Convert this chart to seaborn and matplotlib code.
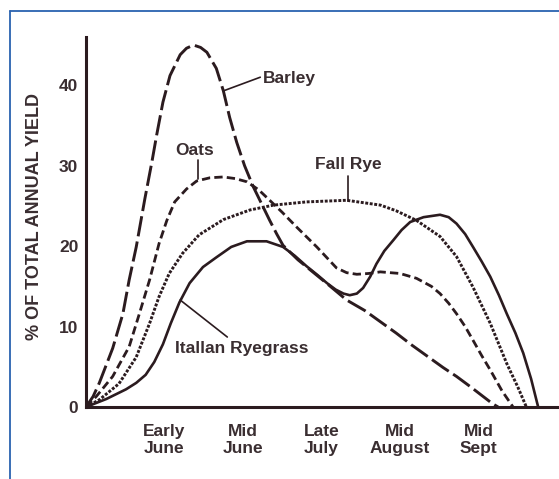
import matplotlib
matplotlib.use("Agg")
import matplotlib.pyplot as plt
import seaborn as sns
from matplotlib.lines import Line2D

# ---- data (x in month-tick units: Early June = 1, ... Mid Sept = 5) ----
tick_pos = [1, 2, 3, 4, 5]
tick_labels = ["Early\nJune", "Mid\nJune", "Late\nJuly", "Mid\nAugust", "Mid\nSept"]
y_ticks = [0, 10, 20, 30, 40]

barley_x = [0, 0.09, 0.17, 0.34, 0.47, 0.55, 0.64, 0.75, 0.84, 0.90, 0.98, 1.07, 1.20,
            1.28, 1.37, 1.46, 1.54, 1.66, 1.75, 1.83, 1.92, 2.02, 2.13, 2.24, 2.34, 2.43,
            2.51, 2.70, 2.90, 3.10, 3.32, 3.55, 3.75, 3.95, 4.15, 4.35, 4.55, 4.72, 4.90,
            5.06, 5.18, 5.25]
barley_y = [0, 1.3, 3.0, 7.3, 11.6, 15.8, 19.9, 25.9, 30.5, 33.8, 37.9, 41.2, 43.8,
            44.6, 45.0, 44.7, 44.1, 42.1, 39.3, 36.0, 32.9, 30.0, 27.4, 25.2, 23.2, 21.5,
            20.1, 18.3, 16.7, 15.1, 13.3, 12.0, 10.6, 9.2, 7.7, 6.3, 4.9, 3.8, 2.5,
            1.3, 0.4, 0]

oats_x = [0, 0.13, 0.34, 0.55, 0.68, 0.81, 0.93, 1.03, 1.13, 1.28, 1.41, 1.58, 1.75,
          1.90, 2.05, 2.20, 2.34, 2.50, 2.68, 2.94, 3.19, 3.32, 3.45, 3.60, 3.75, 4.00,
          4.21, 4.40, 4.51, 4.62, 4.72, 4.83, 4.93, 5.04, 5.15, 5.30, 5.44]
oats_y = [0, 1.3, 3.8, 7.5, 11.6, 15.8, 20.3, 23.2, 25.5, 27.1, 28.1, 28.5, 28.6,
          28.4, 28.0, 27.0, 25.7, 24.2, 22.4, 19.9, 17.3, 16.7, 16.5, 16.6, 16.8, 16.6,
          16.0, 15.0, 14.1, 12.9, 11.6, 10.0, 8.3, 6.4, 4.6, 2.0, 0]

rye_x = [0, 0.17, 0.42, 0.64, 0.81, 0.93, 1.06, 1.23, 1.44, 1.75, 2.09, 2.39, 2.81,
         3.32, 3.75, 3.95, 4.21, 4.51, 4.72, 4.93, 5.15, 5.36, 5.50, 5.61]
rye_y = [0, 0.9, 2.9, 6.2, 10.4, 13.7, 16.6, 19.1, 21.4, 23.3, 24.5, 25.1, 25.5,
         25.7, 25.1, 24.4, 23.2, 21.2, 18.7, 14.9, 10.4, 5.4, 2.5, 0]

ryegrass_x = [0, 0.26, 0.51, 0.64, 0.76, 0.87, 0.98, 1.08, 1.19, 1.32, 1.49, 1.66, 1.85,
              2.05, 2.30, 2.51, 2.66, 2.81, 2.95, 3.07, 3.18, 3.28, 3.36, 3.45, 3.53,
              3.62, 3.70, 3.80, 3.92, 4.02, 4.13, 4.30, 4.51, 4.62, 4.72, 4.83, 4.93,
              5.04, 5.15, 5.26, 5.36, 5.47, 5.57, 5.67, 5.76]
ryegrass_y = [0, 1.0, 2.2, 3.0, 4.0, 5.6, 7.8, 10.4, 13.0, 15.4, 17.4, 18.6, 19.9,
              20.6, 20.6, 19.9, 18.8, 17.5, 16.4, 15.4, 14.6, 14.1, 13.9, 14.1, 14.8,
              16.2, 17.8, 19.4, 20.8, 22.0, 23.0, 23.6, 23.9, 23.6, 22.8, 21.5, 19.9,
              18.1, 16.2, 13.9, 11.6, 9.2, 6.7, 3.5, 0]

# ---- style ----
sns.set_style("white")
plt.rcParams["font.family"] = ["Liberation Sans", "DejaVu Sans"]
plt.rcParams["font.weight"] = "bold"

ink = "#2b1b1f"
txt = "#3a2e31"

fig = plt.figure(figsize=(5.59, 4.79), dpi=100)
ax = fig.add_axes([86 / 559, (479 - 407) / 479, (557 - 86) / 559, (407 - 37) / 479])

series = [
    (barley_x, barley_y, (0, (7.0, 1.8)), 2.1),
    (oats_x, oats_y, (0, (3.0, 1.5)), 2.0),
    (rye_x, rye_y, (0, (1.0, 0.55)), 2.1),
    (ryegrass_x, ryegrass_y, "-", 1.9),
]
for xs, ys, ls, lw in series:
    sns.lineplot(x=xs, y=ys, ax=ax, color=ink, linewidth=lw, linestyle=ls,
                 solid_joinstyle="round", dash_joinstyle="round")

ax.set_xlim(0, 6.0)
ax.set_ylim(0, 46)
ax.set_xticks(tick_pos)
ax.set_xticklabels(tick_labels, fontsize=12.5, color=txt, fontweight="bold", linespacing=1.1)
ax.set_yticks(y_ticks)
ax.set_yticklabels([str(v) for v in y_ticks], fontsize=12.5, color=txt, fontweight="bold")
ax.tick_params(axis="x", direction="out", length=5.5, width=1.6, color=ink, pad=7)
ax.tick_params(axis="y", direction="out", length=4.5, width=1.6, color=ink, pad=1)
for s in ["top", "right"]:
    ax.spines[s].set_visible(False)
for s in ["left", "bottom"]:
    ax.spines[s].set_color(ink)
    ax.spines[s].set_linewidth(2.2)

ax.set_ylabel("% OF TOTAL ANNUAL YIELD", fontsize=13, color=txt, fontweight="bold")
ax.yaxis.set_label_coords(-0.091, 0.516)

# ---- annotations ----
fs = 12.5
ax.text(2.25, 40.9, "Barley", fontsize=fs, color=txt, fontweight="bold", ha="left", va="center")
ax.plot([1.75, 2.22], [39.3, 41.0], color=ink, lw=1.2)
ax.text(1.39, 31.9, "Oats", fontsize=fs, color=txt, fontweight="bold", ha="center", va="center")
ax.plot([1.43, 1.43], [30.7, 28.4], color=ink, lw=1.2)
ax.text(3.34, 30.1, "Fall Rye", fontsize=fs, color=txt, fontweight="bold", ha="center", va="center")
ax.plot([3.34, 3.34], [28.7, 25.6], color=ink, lw=1.2)
ax.text(1.13, 7.3, "Itallan Ryegrass", fontsize=fs, color=txt, fontweight="bold", ha="left", va="center")
ax.plot([1.20, 1.80], [13.3, 8.7], color=ink, lw=1.2)

# ---- blue frame (top and left edges) ----
frame_c = "#2a62b0"
fig.add_artist(Line2D([10 / 559, 1.0], [1 - 11 / 479, 1 - 11 / 479], transform=fig.transFigure,
                      color=frame_c, lw=1.3))
fig.add_artist(Line2D([10 / 559, 10 / 559], [0.0, 1 - 11 / 479], transform=fig.transFigure,
                      color=frame_c, lw=1.3))

fig.savefig("out.png", dpi=100)
